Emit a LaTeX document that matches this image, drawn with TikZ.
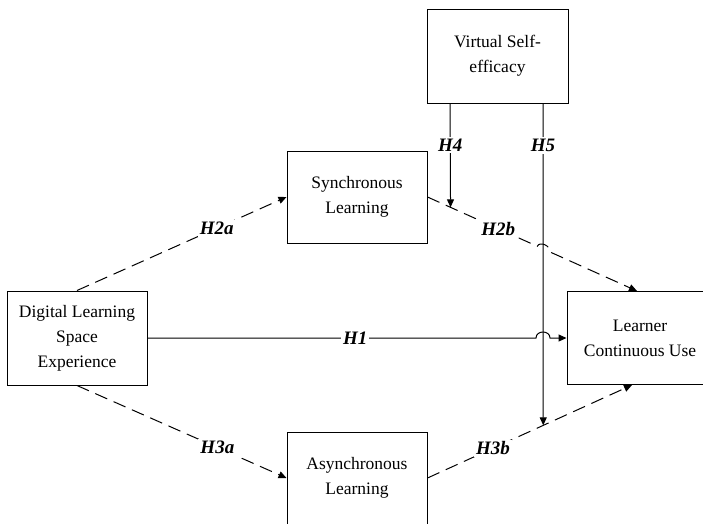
\documentclass[tikz,border=0pt]{standalone}
\usepackage{fontspec}
\setmainfont{Liberation Serif}
\usetikzlibrary{arrows.meta,calc}

\begin{document}
\begin{tikzpicture}[x=1pt,y=-1pt,
		box/.style={draw, line width=1pt, minimum width=140pt, minimum height=93pt, align=center, inner sep=0pt, font=\fontsize{17.5}{25}\selectfont},
		hyp/.style={fill=white, inner sep=2pt, font=\fontsize{19}{20}\selectfont\bfseries\itshape},
		link/.style={line width=1pt, -{Triangle[length=8pt,width=7pt]}},
		dlink/.style={link, dash pattern=on 13pt off 7pt}]
		\useasboundingbox (0,0) rectangle (703,523);
		\node[box, minimum width=141pt, minimum height=94pt] (vse) at (497.5,56) {Virtual Self-\\efficacy};
		\node[box, minimum height=92pt] (sl) at (357,197) {Synchronous\\Learning};
		\node[box, minimum height=94pt] (dls) at (77,338) {Digital Learning\\Space\\Experience};
		\node[box, minimum width=146pt] (lcu) at (640,338) {Learner\\Continuous Use};
		\node[box, minimum height=92pt] (al) at (357,478) {Asynchronous\\Learning};
		\coordinate (h4top) at ([xshift=-47.5pt]vse.south);
		\coordinate (h5top) at ([xshift=45.5pt]vse.south);
		\coordinate (h2bend) at ([xshift=-3pt]lcu.north);
		\coordinate (h3bend) at ([xshift=-8pt]lcu.south);
		\coordinate (h4end) at ($(sl.east)!0.11!(h2bend)$);
		\coordinate (h5end) at ($(al.east)!0.566!(h3bend)$);
		\coordinate (hopa) at ($(sl.east)!0.524!(h2bend)$);
		\coordinate (hopb) at ($(sl.east)!0.58!(h2bend)$);
		\coordinate (hopc) at ([xshift=-7pt]lcu.west -| h5top);
		\coordinate (hopd) at ([xshift=7pt]lcu.west -| h5top);
		\draw[dlink] (dls.north) -- node[hyp, pos=0.667] {H2a} (sl.west);
		\draw[dlink] (dls.south) -- node[hyp, pos=0.67] {H3a} (al.west);
		\draw[dlink] (al.east) -- node[hyp, pos=0.32] {H3b} (h3bend);
		\draw[dlink] (sl.east) -- node[hyp, pos=0.645] {H2b} (hopa)
			.. controls ($(hopa)!6pt!90:(hopb)$) and ($(hopb)!6pt!-90:(hopa)$) .. (hopb) -- (h2bend);
		\draw[link] (dls.east) -- node[hyp, pos=0.535] {H1} (hopc)
			.. controls ($(hopc)+(0,-8)$) and ($(hopd)+(0,-8)$) .. (hopd) -- (lcu.west);
		\draw[link] (h4top) -- node[hyp, pos=0.4] {H4} (h4end);
		\draw[link] (h5top) -- node[hyp, pos=0.13] {H5} (h5end);
		\end{tikzpicture}
\end{document}
